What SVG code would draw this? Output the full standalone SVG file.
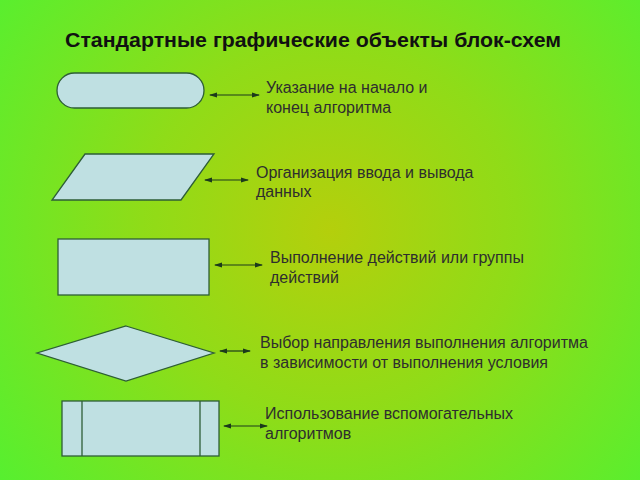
<svg xmlns="http://www.w3.org/2000/svg" width="640" height="480" viewBox="0 0 640 480">
<defs>
<radialGradient id="bg" cx="330" cy="230" r="420" gradientUnits="userSpaceOnUse">
<stop offset="0" stop-color="#b4cf0c"/>
<stop offset="0.45" stop-color="#8fdc18"/>
<stop offset="1" stop-color="#55f030"/>
</radialGradient>
<marker id="ah" viewBox="0 0 8 6" refX="7" refY="3" markerWidth="8" markerHeight="6" markerUnits="userSpaceOnUse" orient="auto-start-reverse">
<path d="M0,0.5 L8,3 L0,5.5 Z" fill="#1c3a1c"/>
</marker>
<style>
.shape{fill:#bfe0e2;stroke:#2e5e36;stroke-width:1.3}
.lbl{font-family:"Liberation Sans",Arial,sans-serif;font-size:16px;fill:#2e2e2e}
.title{font-family:"Liberation Sans",Arial,sans-serif;font-size:20px;font-weight:bold;fill:#111}
.conn line{stroke:#1c3a1c;stroke-width:1.2;marker-start:url(#ah);marker-end:url(#ah)}
</style>
</defs>
<rect width="640" height="480" fill="url(#bg)"/>
<text class="title" x="65" y="47" textLength="496" lengthAdjust="spacingAndGlyphs">Стандартные графические объекты блок-схем</text>
<g id="terminator">
<rect class="shape" x="57" y="73" width="147" height="35" rx="17.5" ry="17.5"/>
</g>
<g id="io">
<polygon class="shape" points="85,154 214,154 181,200 52,200"/>
</g>
<g id="process">
<rect class="shape" x="58" y="239" width="151" height="56"/>
</g>
<g id="decision">
<polygon class="shape" points="126,326 214,353 126,381 37,353"/>
</g>
<g id="subroutine">
<rect class="shape" x="62" y="401" width="157" height="55"/>
<line class="shape" x1="82" y1="401" x2="82" y2="456"/>
<line class="shape" x1="200" y1="401" x2="200" y2="456"/>
</g>
<g id="connectors" class="conn">
<line x1="210" y1="95" x2="259" y2="95"/>
<line x1="205" y1="180" x2="248" y2="180"/>
<line x1="215" y1="265" x2="262" y2="265"/>
<line x1="220" y1="351" x2="250" y2="351"/>
<line x1="224" y1="426" x2="267" y2="426"/>
</g>
<g id="label1"><text class="lbl" x="266" y="93">Указание на начало и</text><text class="lbl" x="266" y="113">конец алгоритма</text></g>
<g id="label2"><text class="lbl" x="256" y="178">Организация ввода и вывода</text><text class="lbl" x="256" y="197">данных</text></g>
<g id="label3"><text class="lbl" x="270" y="263">Выполнение действий или группы</text><text class="lbl" x="270" y="283">действий</text></g>
<g id="label4"><text class="lbl" x="260" y="348">Выбор направления выполнения алгоритма</text><text class="lbl" x="260" y="368">в зависимости от выполнения условия</text></g>
<g id="label5"><text class="lbl" x="265" y="419">Использование вспомогательных</text><text class="lbl" x="265" y="439">алгоритмов</text></g>
</svg>
